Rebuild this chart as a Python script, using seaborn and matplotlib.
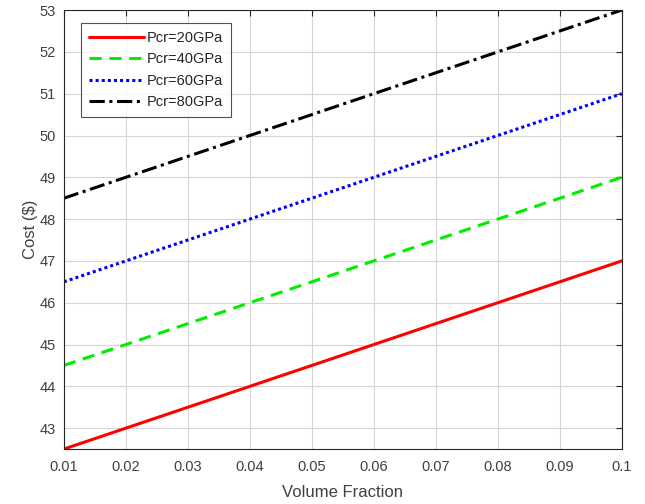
import numpy as np
import pandas as pd
import seaborn as sns
import matplotlib.pyplot as plt

# data
vf = [0.01, 0.1]
cost_20 = [42.5, 47.0]
cost_40 = [44.5, 49.0]
cost_60 = [46.5, 51.0]
cost_80 = [48.5, 53.0]
labels = ['Pcr=20GPa', 'Pcr=40GPa', 'Pcr=60GPa', 'Pcr=80GPa']

df = pd.DataFrame({
    'vf': vf * 4,
    'cost': cost_20 + cost_40 + cost_60 + cost_80,
    'series': [l for l in labels for _ in vf],
})

sns.set_theme(style="whitegrid")
plt.rcParams['font.family'] = ['Liberation Sans', 'DejaVu Sans']

fig = plt.figure(figsize=(6.45, 5.04), dpi=100)
ax = fig.add_axes([0.099, 0.109, 0.865, 0.871])

styles = {'Pcr=20GPa': ('red', '-'), 'Pcr=40GPa': ('#00ee00', (0, (4, 2.5))),
          'Pcr=60GPa': ('blue', (0, (1, 1))), 'Pcr=80GPa': ('black', (0, (5, 1.5, 1, 1.5)))}

for lab in labels:
    sub = df[df['series'] == lab]
    c, ls = styles[lab]
    sns.lineplot(data=sub, x='vf', y='cost', ax=ax, color=c, linestyle=ls,
                 linewidth=2.2, label=lab)

ax.set_xlim(0.01, 0.1)
ax.set_ylim(42.5, 53)
ax.set_xticks(np.arange(0.01, 0.1001, 0.01))
ax.set_xticklabels(['0.01', '0.02', '0.03', '0.04', '0.05', '0.06', '0.07', '0.08', '0.09', '0.1'])
ax.set_yticks(range(43, 54))
ax.set_facecolor('white')
ax.grid(True, color='#d6d6d6', linewidth=0.8)
for s in ax.spines.values():
    s.set_color('#262626')
    s.set_linewidth(0.8)
ax.tick_params(direction='in', length=4, width=0.8, color='#262626', top=True, right=True,
               labelsize=10.5, labelcolor='#404040', pad=8)
ax.tick_params(axis='y', pad=6)
ax.set_xlabel('Volume Fraction', fontsize=12, color='#404040', labelpad=8)
ax.set_ylabel('Cost ($)', fontsize=12, color='#404040', labelpad=1)

leg = ax.legend(loc='upper left', bbox_to_anchor=(0.017, 0.987), fontsize=10.5, frameon=True,
                fancybox=False, handlelength=3.8, handletextpad=0.2, labelspacing=0.5,
                borderpad=0.55)
leg.get_frame().set_edgecolor('#262626')
leg.get_frame().set_linewidth(0.8)
for t in leg.get_texts():
    t.set_color('#262626')

fig.savefig('out.png', dpi=100)
